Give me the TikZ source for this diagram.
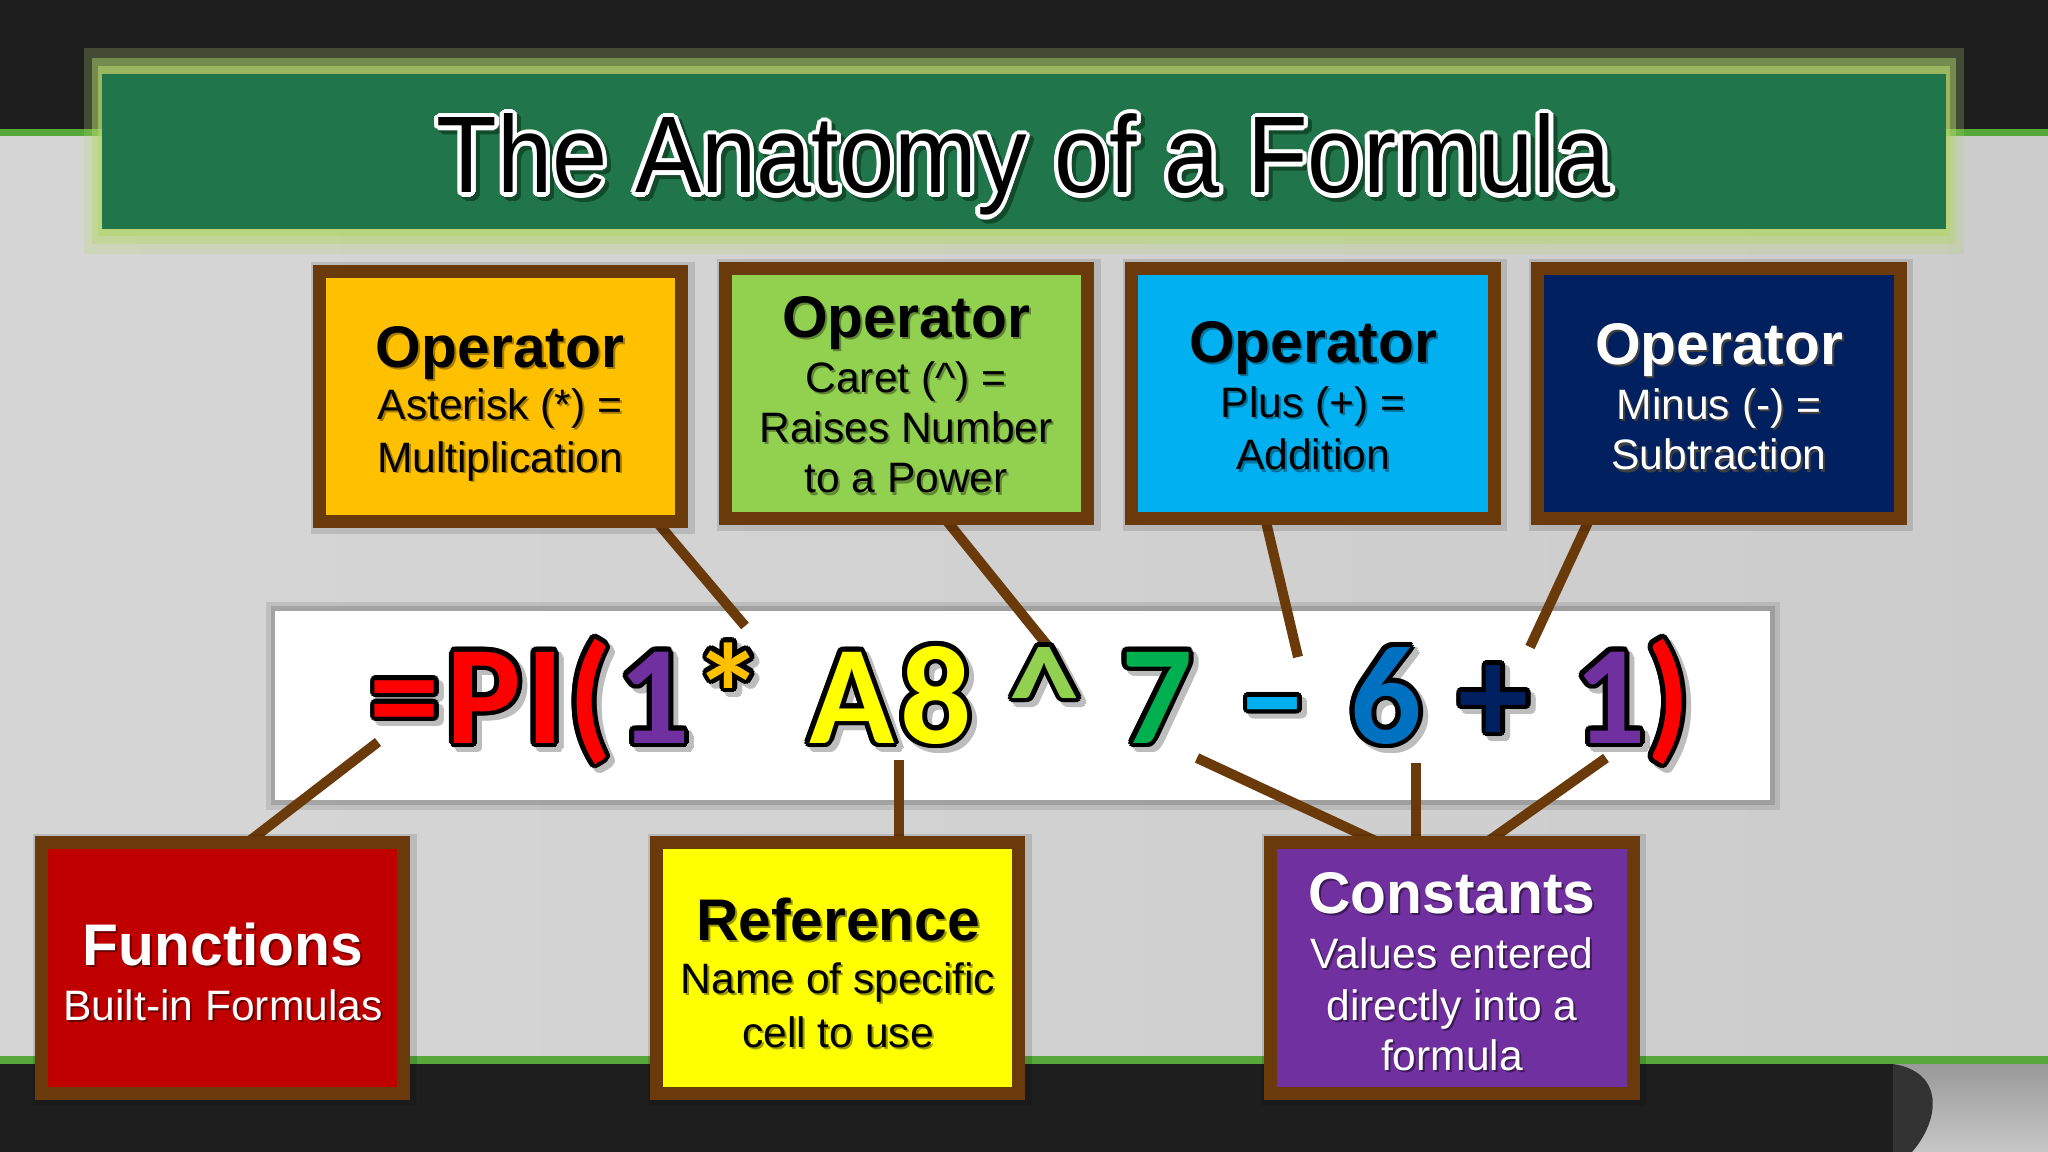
\documentclass[tikz,border=0pt]{standalone}
\usepackage{fontspec}
\setmainfont{Liberation Sans}
\newfontfamily\titlefont[FakeStretch=0.91]{Liberation Sans}
\newfontfamily\formfont{Carlito}
\usetikzlibrary{calc}

\definecolor{brownc}{HTML}{6B3A0A}
\definecolor{bannerc}{HTML}{21754A}
\definecolor{glowc}{HTML}{B4D66E}
\definecolor{lineg}{HTML}{56A83A}
\definecolor{bgdark}{HTML}{1E1E1E}
\definecolor{cOrange}{HTML}{FFC000}
\definecolor{cLgreen}{HTML}{92D050}
\definecolor{cLblue}{HTML}{00B0F0}
\definecolor{cNavy}{HTML}{002060}
\definecolor{cRed}{HTML}{C00000}
\definecolor{cYellow}{HTML}{FFFF00}
\definecolor{cPurple}{HTML}{7030A0}
\definecolor{fRed}{HTML}{FF0000}
\definecolor{fGreen}{HTML}{00B050}
\definecolor{fBlue}{HTML}{0070C0}
\definecolor{fShadow}{HTML}{BDBDBD}
\definecolor{tShadow}{HTML}{124A2C}

% outlined text: #1 radius, #2 outline colour, #3 fill colour, #4 text
\newbox\olbox
\newlength\olr
\newcommand\olc[2]{\rlap{\kern#1\raise#2\copy\olbox}}
\newcommand\outlinetext[4]{%
  \setbox\olbox=\hbox{#4}\olr=#1\relax
  {\color{#2}%
   \olc{\olr}{0pt}\olc{-\olr}{0pt}\olc{0pt}{\olr}\olc{0pt}{-\olr}%
   \olc{0.707\olr}{0.707\olr}\olc{-0.707\olr}{0.707\olr}%
   \olc{0.707\olr}{-0.707\olr}\olc{-0.707\olr}{-0.707\olr}%
   \olc{0.924\olr}{0.383\olr}\olc{-0.924\olr}{0.383\olr}%
   \olc{0.924\olr}{-0.383\olr}\olc{-0.924\olr}{-0.383\olr}%
   \olc{0.383\olr}{0.924\olr}\olc{-0.383\olr}{0.924\olr}%
   \olc{0.383\olr}{-0.924\olr}\olc{-0.383\olr}{-0.924\olr}}%
  {\color{#3}\copy\olbox}}

\newcommand\headfont{\bfseries\fontsize{16.7}{16.7}\selectfont}
\newcommand\bodyfont{\fontsize{12.1}{12.1}\selectfont}

\tikzset{
  framebox/.style={draw=brownc, line width=3.7pt, minimum width=3.62cm,
    minimum height=2.50cm, inner sep=0pt, outer sep=0pt},
  conn/.style={draw=brownc, line width=2.85pt},
  fch/.style={anchor=base, inner sep=0pt,
    font=\formfont\bfseries\fontsize{40}{40}\selectfont},
  btxt/.style={anchor=base, inner sep=0pt}
}

% formula character: name, x, colour, char
\newcommand\fchar[4]{%
  \node[fch] at (#2+5,748) {\outlinetext{1.4pt}{fShadow}{fShadow}{#4}};
  \node[fch] (#1) at (#2,743) {\outlinetext{1.4pt}{black}{#3}{#4}};}
% box text: name, x, y, font, colour, shadow colour, text
\newcommand\btext[7]{%
  \node[btxt, font=#4, text=#6] at (#2+2,#3+2) {#7};
  \node[btxt, font=#4, text=#5] (#1) at (#2,#3) {#7};}

\begin{document}
\begin{tikzpicture}[x=0.01cm,y=-0.01cm]
\useasboundingbox (0,0) rectangle (2048,1152);

% background
\fill[bgdark] (0,0) rectangle (2048,131);
\fill[lineg] (0,129) rectangle (2048,137);
\shade[left color=black!16, right color=black!20] (0,137) rectangle (2048,1056);
\fill[lineg] (0,1056) rectangle (2048,1064);
\fill[bgdark] (0,1064) rectangle (2048,1152);
\shade[top color=black!40, bottom color=black!22] (1893,1064) rectangle (2048,1152);
\fill[black!80] (1893,1064) .. controls (1945,1072) and (1940,1120) .. (1912,1152) -- (1893,1152) -- cycle;

% title banner
\fill[glowc, opacity=0.25] (84,48) rectangle (1964,254);
\fill[glowc, opacity=0.45] (92,58) rectangle (1956,244);
\fill[glowc, opacity=0.6] (98,66) rectangle (1950,236);
\fill[bannerc] (102,74) rectangle (1946,229);
\node[anchor=base, inner sep=0pt, font=\titlefont\fontsize{31}{31}\selectfont]
  at (1028,197) {\outlinetext{1.2pt}{tShadow}{tShadow}{The Anatomy of a Formula}};
\node[anchor=base, inner sep=0pt, font=\titlefont\fontsize{31}{31}\selectfont]
  (title) at (1024,193) {\outlinetext{1.2pt}{white}{black}{The Anatomy of a Formula}};

% formula bar
\fill[black, opacity=0.10] (266,602) rectangle (1780,810);
\fill[black, opacity=0.14] (271,606) rectangle (1775,805);
\node[fill=white, minimum width=14.95cm, minimum height=1.89cm, inner sep=0pt]
  (bar) at (1022.5,705.5) {};

% connectors (drawn under the boxes)
\coordinate (k1a) at (645,508);  \coordinate (k1b) at (745,626);
\coordinate (k2a) at (934,505);  \coordinate (k2b) at (1051,650);
\coordinate (k3a) at (1262,505); \coordinate (k3b) at (1298,657);
\coordinate (k4a) at (1596,505); \coordinate (k4b) at (1530,647);
\coordinate (k5a) at (378,742);  \coordinate (k5b) at (230,856);
\coordinate (k6a) at (899,760);  \coordinate (k6b) at (899,852);
\coordinate (k7a) at (1197,758); \coordinate (k7b) at (1395,850);
\coordinate (k8a) at (1416,763); \coordinate (k8b) at (1416,852);
\coordinate (k9a) at (1606,758); \coordinate (k9b) at (1480,847);
\foreach \s in {1,...,9} \draw[conn] (k\s a) -- (k\s b);

% box shadows
\foreach \cx/\cy in {500.5/396.5, 906.5/393.5, 1313/393.5, 1719/393.5,
                      222.5/968, 837.5/968, 1452/968}
  \fill[black, opacity=0.12] (\cx-190,\cy-134) rectangle (\cx+194,\cy+138);

% boxes
\node[framebox, fill=cOrange] (b1) at (500.5,396.5) {};
\node[framebox, fill=cLgreen] (b2) at (906.5,393.5) {};
\node[framebox, fill=cLblue]  (b3) at (1313,393.5) {};
\node[framebox, fill=cNavy]   (b4) at (1719,393.5) {};
\node[framebox, fill=cRed]    (bf) at (222.5,968) {};
\node[framebox, fill=cYellow] (br) at (837.5,968) {};
\node[framebox, fill=cPurple] (bc) at (1452,968) {};

% box texts
\btext{t1a}{500}{368}{\headfont}{black}{cOrange!65!black}{Operator}
\btext{t1b}{500}{420}{\bodyfont}{black}{cOrange!65!black}{Asterisk (*) =}
\btext{t1c}{500}{472}{\bodyfont}{black}{cOrange!65!black}{Multiplication}

\btext{t2a}{906}{338}{\headfont}{black}{cLgreen!65!black}{Operator}
\btext{t2b}{906}{393}{\bodyfont}{black}{cLgreen!65!black}{Caret (\textasciicircum) =}
\btext{t2c}{906}{443}{\bodyfont}{black}{cLgreen!65!black}{Raises Number}
\btext{t2d}{906}{493}{\bodyfont}{black}{cLgreen!65!black}{to a Power}

\btext{t3a}{1313}{363}{\headfont}{black}{cLblue!65!black}{Operator}
\btext{t3b}{1313}{418}{\bodyfont}{black}{cLblue!65!black}{Plus (+) =}
\btext{t3c}{1313}{470}{\bodyfont}{black}{cLblue!65!black}{Addition}

\btext{t4a}{1719}{365}{\headfont}{white}{black!75}{Operator}
\btext{t4b}{1719}{420}{\bodyfont}{white}{black!75}{Minus (-) =}
\btext{t4c}{1719}{470}{\bodyfont}{white}{black!75}{Subtraction}

\btext{tfa}{223}{965}{\headfont}{white}{cRed!55!black}{Functions}
\btext{tfb}{223}{1020}{\bodyfont}{white}{cRed!55!black}{Built-in Formulas}

\btext{tra}{838}{940}{\headfont}{black}{cYellow!60!black}{Reference}
\btext{trb}{838}{993}{\bodyfont}{black}{cYellow!60!black}{Name of specific}
\btext{trc}{838}{1047}{\bodyfont}{black}{cYellow!60!black}{cell to use}

\btext{tca}{1452}{913}{\headfont}{white}{cPurple!55!black}{Constants}
\btext{tcb}{1452}{968}{\bodyfont}{white}{cPurple!55!black}{Values entered}
\btext{tcc}{1452}{1020}{\bodyfont}{white}{cPurple!55!black}{directly into a}
\btext{tcd}{1452}{1070}{\bodyfont}{white}{cPurple!55!black}{formula}

% formula
\fchar{fq}{405}{fRed}{=}
\fchar{fp}{484}{fRed}{P}
\fchar{fi}{545}{fRed}{I}
\fchar{fo}{590}{fRed}{(}
\fchar{fa}{654}{cPurple}{1}
\fchar{fs}{729}{cOrange}{*}
\fchar{fA}{852}{cYellow}{A}
\fchar{fe}{936}{cYellow}{8}
\fchar{fc}{1045}{cLgreen}{\textasciicircum}
\fchar{fg}{1157}{fGreen}{7}
\fchar{fm}{1273}{cLblue}{\textendash}
\fchar{fx}{1386}{fBlue}{6}
\fchar{fl}{1494}{cNavy}{+}
\fchar{fb}{1610}{cPurple}{1}
\fchar{fz}{1668}{fRed}{)}
\end{tikzpicture}
\end{document}
